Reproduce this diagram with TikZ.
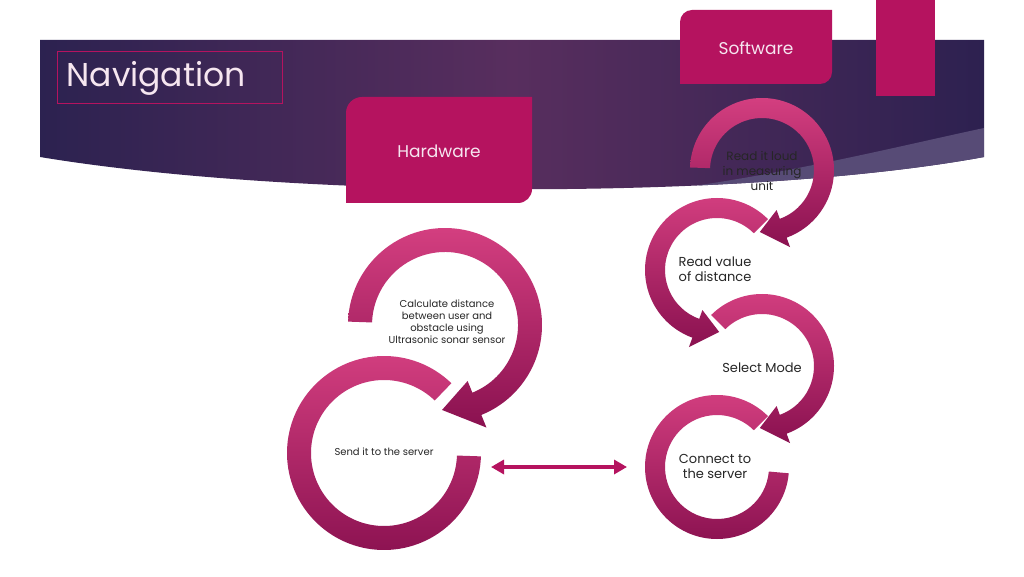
\documentclass[tikz,border=0pt]{standalone}
\usepackage{fontspec}
\setmainfont{Poppins}
\usetikzlibrary{arrows.meta}
\tikzset{>={Triangle[length=13pt,width=14pt]}}
\definecolor{plum}{HTML}{B5135F}
\definecolor{ringtop}{HTML}{D43F80}
\definecolor{ringbot}{HTML}{8A1150}
\definecolor{bandleft}{HTML}{2C2250}
\definecolor{bandmid}{HTML}{582E5E}
\definecolor{bandright}{HTML}{2D2150}
\definecolor{stripe}{HTML}{574B76}
\definecolor{textgray}{HTML}{262626}
\definecolor{paletext}{HTML}{F6E6F0}
\tikzstyle{tile}=[fill=plum]
\tikzstyle{ring}=[top color=ringtop,bottom color=ringbot]
\tikzstyle{steptext}=[align=center,text=textgray,inner sep=0pt,font=\fontsize{13}{15}\selectfont]
\tikzstyle{smalltext}=[steptext,font=\fontsize{10}{12}\selectfont]
\tikzstyle{tiletext}=[text=paletext,font=\fontsize{17}{20}\selectfont]
\tikzstyle{link}=[<->,draw=plum,line width=4.5pt]
% circular arrow: center, outer r, inner r, start angle, end angle, tip angle
\newcommand{\turnarrow}[6]{%
  \pgfmathsetmacro{\rmid}{(#2+#3)/2}
  \pgfmathsetmacro{\rout}{1.14*#2}
  \pgfmathsetmacro{\rin}{#3-0.13*#2}
  \shade[ring] ([shift={(#1)}]#4:#2) arc[start angle=#4,end angle=#5,radius=#2]
    -- ([shift={(#1)}]#5:\rout) -- ([shift={(#1)}]#6:\rmid)
    -- ([shift={(#1)}]#5:\rin) -- ([shift={(#1)}]#5:#3)
    arc[start angle=#5,end angle=#4,radius=#3] -- cycle;
}
% last ring of a column has no head
\newcommand{\plainring}[5]{%
  \shade[ring] ([shift={(#1)}]#4:#2) arc[start angle=#4,end angle=#5,radius=#2]
    -- ([shift={(#1)}]#5:#3) arc[start angle=#5,end angle=#4,radius=#3] -- cycle;
}

\begin{document}
\begin{tikzpicture}[x=1pt,y=1pt]
    \useasboundingbox (0,0) rectangle (1024,576);
    \fill[white] (0,0) rectangle (1024,576);

    % banner
    \shade[left color=bandleft,right color=bandright,middle color=bandmid]
      (40,536) -- (984,536) -- (984,419) .. controls (750,376) and (300,376) .. (40,419) -- cycle;
    \begin{scope}
      \clip (40,536) -- (984,536) -- (984,419) .. controls (750,376) and (300,376) .. (40,419) -- cycle;
      \fill[stripe] (984,448) .. controls (900,430) and (800,405) .. (680,388) -- (680,300) -- (984,300) -- cycle;
    \end{scope}
    \draw[plum,line width=0.8pt] (57,473) rectangle (282,525);
    \node[text=paletext,anchor=west,font=\fontsize{33}{40}\selectfont] (title) at (63,498) {Navigation};

    % tiles
    \fill[tile] (876,480) rectangle (935,576);
    \fill[tile] (680,492) -- (680,554) arc[start angle=180,end angle=90,radius=12]
      -- (832,566) -- (832,504) arc[start angle=0,end angle=-90,radius=12] -- cycle;
    \fill[tile] (346,373) -- (346,463) arc[start angle=180,end angle=90,radius=16]
      -- (532,479) -- (532,387) arc[start angle=0,end angle=-90,radius=14] -- cycle;
    \node[tiletext] (sw) at (756,528) {Software};
    \node[tiletext] (hw) at (439,425) {Hardware};

    % ring centres
    \coordinate (l1) at (445,251);
    \coordinate (l2) at (384,123);
    \coordinate (r1) at (762,406);
    \coordinate (r2) at (717,306);
    \coordinate (r3) at (762,210);
    \coordinate (r4) at (717,109);

    \turnarrow{l1}{97}{73}{178}{-68}{-92}
    \plainring{l2}{97}{73}{46}{358}
    \turnarrow{r1}{72}{52}{178}{-70}{-92}
    \turnarrow{r2}{72}{52}{45}{250}{272}
    \turnarrow{r3}{72}{52}{135}{-70}{-92}
    \plainring{r4}{72}{52}{45}{355}

    \node[smalltext] (calc) at (447,254) {Calculate distance\\between user and\\obstacle using\\Ultrasonic sonar sensor};
    \node[smalltext] (send) at (384,124) {Send it to the server};
    \node[steptext,font=\fontsize{12}{15}\selectfont] (loud) at (762,405) {Read it loud\\in measuring\\unit};
    \node[steptext] (value) at (715,307) {Read value\\of distance};
    \node[steptext] (mode) at (762,208) {Select Mode};
    \node[steptext] (connect) at (715,110) {Connect to\\the server};

    \coordinate (lnkL) at (491,109);
    \coordinate (lnkR) at (627,109);
    \draw[link] (lnkL) -- (lnkR);
\end{tikzpicture}
\end{document}
